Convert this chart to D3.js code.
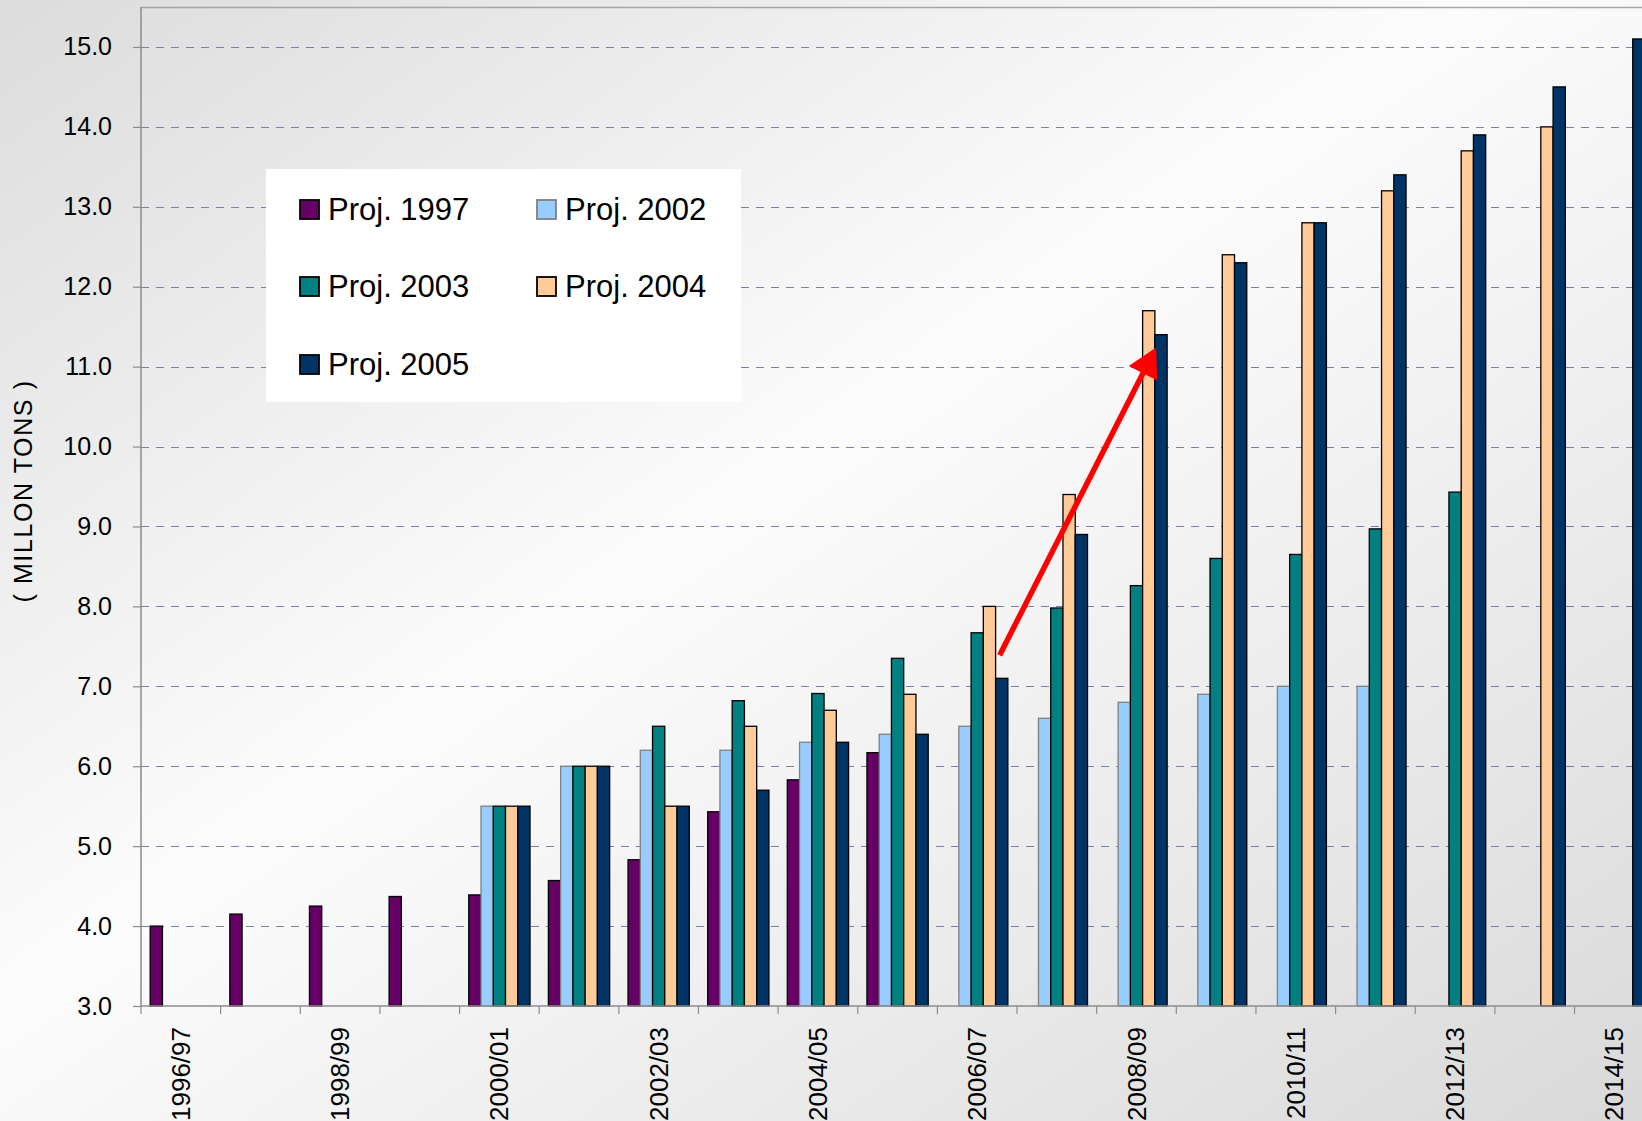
<!DOCTYPE html>
<html>
<head>
<meta charset="utf-8">
<script src="https://cdn.jsdelivr.net/npm/d3@7"></script>
<style>
  html, body { margin: 0; padding: 0; overflow: hidden; background: #fff; }
  svg { display: block; }
  text { font-family: "Liberation Sans", Arial, sans-serif; fill: #000; }
</style>
</head>
<body>
<svg id="chart" width="1642" height="1121"></svg>
<script>
// Marketing years on the x axis
const categories = [
  "1996/97", "1997/98", "1998/99", "1999/00", "2000/01", "2001/02", "2002/03",
  "2003/04", "2004/05", "2005/06", "2006/07", "2007/08", "2008/09", "2009/10",
  "2010/11", "2011/12", "2012/13", "2013/14", "2014/15"
];
// Only every other year is labelled
const xTickLabels = [
  "1996/97", "1998/99", "2000/01", "2002/03", "2004/05",
  "2006/07", "2008/09", "2010/11", "2012/13", "2014/15"
];
const yTicks = [3, 4, 5, 6, 7, 8, 9, 10, 11, 12, 13, 14, 15];

const seriesNames = ["Proj. 1997", "Proj. 2002", "Proj. 2003", "Proj. 2004", "Proj. 2005"];

// Projected volumes, million tons (null = no projection for that year)
const proj1997 = [4.00, 4.15, 4.25, 4.37, 4.39, 4.57, 4.83, 5.43, 5.83, 6.17,
                  null, null, null, null, null, null, null, null, null];
const proj2002 = [null, null, null, null, 5.5, 6.0, 6.2, 6.2, 6.3, 6.4,
                  6.5, 6.6, 6.8, 6.9, 7.0, 7.0, null, null, null];
const proj2003 = [null, null, null, null, 5.5, 6.0, 6.5, 6.82, 6.91, 7.35,
                  7.67, 7.98, 8.26, 8.60, 8.65, 8.97, 9.43, null, null];
const proj2004 = [null, null, null, null, 5.5, 6.0, 5.5, 6.5, 6.7, 6.9,
                  8.0, 9.4, 11.7, 12.4, 12.8, 13.2, 13.7, 14.0, null];
const proj2005 = [null, null, null, null, 5.5, 6.0, 5.5, 5.7, 6.3, 6.4,
                  7.1, 8.9, 11.4, 12.3, 12.8, 13.4, 13.9, 14.5, 15.1];

const seriesValues = [proj1997, proj2002, proj2003, proj2004, proj2005];

// Annotation arrow: from the 2006/07 Proj. 2005 bar up to the 2008/09 one
const arrowFrom = { category: "2006/07", series: "Proj. 2005", value: 7.39 };
const arrowTo   = { category: "2008/09", series: "Proj. 2005", value: 11.24 };

// ---- styles ----
const fills   = ["#660066", "#99ccff", "#008080", "#ffcc99", "#003366"];
const strokes = ["#000000", "#808080", "#000000", "#000000", "#000000"];

const svg = d3.select("#chart");
const W = 1642, H = 1121;

// Background: soft diagonal grey gradient
const defs = svg.append("defs");
const bg = defs.append("linearGradient").attr("id", "bg")
  .attr("x1", "0").attr("y1", "0").attr("x2", "1").attr("y2", "1");
bg.append("stop").attr("offset", "0").attr("stop-color", "#dcdcdc");
bg.append("stop").attr("offset", "0.45").attr("stop-color", "#fcfcfc");
bg.append("stop").attr("offset", "1").attr("stop-color", "#d9d9d9");
svg.append("rect").attr("width", W).attr("height", H).attr("fill", "url(#bg)");

// Plot area
const plotLeft = 141, plotTop = 7, plotBottom = 1006;
const step = 79.64;
const plotRight = plotLeft + step * categories.length;

const x0 = d3.scaleBand().domain(categories).range([plotLeft, plotRight]).padding(0);
// Clustered bars with 150% gap: 5 bars + 1.5 bar widths of gap per category
const bw = x0.bandwidth() / 6.5;
const x1 = d3.scaleBand().domain(seriesNames)
  .range([0.75 * bw, 0.75 * bw + 5 * bw]).padding(0);

const y = d3.scaleLinear().domain([3, 15.5]).range([plotBottom, plotTop]);

// Top border of plot area
svg.append("line")
  .attr("x1", plotLeft).attr("x2", W).attr("y1", plotTop + 0.5).attr("y2", plotTop + 0.5)
  .attr("stroke", "#a6a6a6").attr("stroke-width", 1.5);

// Dashed gridlines
svg.append("g").selectAll("line")
  .data(yTicks.filter(v => v > 3))
  .join("line")
  .attr("x1", plotLeft).attr("x2", W)
  .attr("y1", d => Math.round(y(d)) + 0.5).attr("y2", d => Math.round(y(d)) + 0.5)
  .attr("stroke", "#7d7daf").attr("stroke-width", 1.2)
  .attr("stroke-dasharray", "8,7");

// Y axis
const yAxis = d3.axisLeft(y).tickValues(yTicks).tickFormat(d3.format(".1f"))
  .tickSize(8).tickPadding(21);
const gy = svg.append("g").attr("transform", `translate(${plotLeft},0)`).call(yAxis);
gy.select(".domain").attr("stroke", "#8c8c8c").attr("stroke-width", 1.5)
  .attr("d", `M0,${plotTop}V${plotBottom}`);
gy.selectAll(".tick line").attr("stroke", "#8c8c8c").attr("stroke-width", 1.2);
gy.selectAll(".tick text").style("font-size", "25px")
  .style("font-family", '"Liberation Sans", Arial, sans-serif').attr("fill", "#000");

// Bars
const barData = [];
seriesNames.forEach((s, si) => {
  seriesValues[si].forEach((v, ci) => {
    if (v != null) barData.push({ series: s, si, category: categories[ci], value: v });
  });
});

svg.append("g").selectAll("rect")
  .data(barData)
  .join("rect")
  .attr("x", d => x0(d.category) + x1(d.series))
  .attr("y", d => y(d.value))
  .attr("width", x1.bandwidth())
  .attr("height", d => plotBottom - y(d.value))
  .attr("fill", d => fills[d.si])
  .attr("stroke", d => strokes[d.si])
  .attr("stroke-width", 1.3);

// X axis (ticks at category boundaries)
svg.append("line")
  .attr("x1", plotLeft).attr("x2", W).attr("y1", plotBottom).attr("y2", plotBottom)
  .attr("stroke", "#8c8c8c").attr("stroke-width", 1.5);
svg.append("g").selectAll("line")
  .data(categories)
  .join("line")
  .attr("x1", d => x0(d)).attr("x2", d => x0(d))
  .attr("y1", plotBottom).attr("y2", plotBottom + 8)
  .attr("stroke", "#8c8c8c").attr("stroke-width", 1.2);

svg.append("g").selectAll("text")
  .data(xTickLabels)
  .join("text")
  .attr("transform", d => `translate(${x0(d) + x0.bandwidth() / 2},${plotBottom + 21}) rotate(-90)`)
  .attr("text-anchor", "end")
  .attr("dy", "0.35em")
  .style("font-size", "26px")
  .text(d => d);

// Y axis title
svg.append("text")
  .attr("transform", "translate(23,491) rotate(-90)")
  .attr("text-anchor", "middle")
  .attr("dy", "0.35em")
  .style("font-size", "25px")
  .style("letter-spacing", "1.6px")
  .attr("fill", "#000")
  .text("( MILLON  TONS )");

// Legend
const legend = svg.append("g");
legend.append("rect")
  .attr("x", 266).attr("y", 169).attr("width", 475).attr("height", 233)
  .attr("fill", "#ffffff");
const legendCols = [300, 537];
const legendRows = [200, 277, 355];
seriesNames.forEach((s, i) => {
  const lx = legendCols[i % 2], ly = legendRows[Math.floor(i / 2)];
  legend.append("rect")
    .attr("x", lx).attr("y", ly).attr("width", 19).attr("height", 19)
    .attr("fill", fills[i]).attr("stroke", strokes[i]).attr("stroke-width", 1.8);
  legend.append("text")
    .attr("x", lx + 28).attr("y", ly + 20)
    .style("font-size", "31px")
    .text(s);
});

// Red arrow annotation
const ax0 = x0(arrowFrom.category) + x1(arrowFrom.series) + 0.33 * x1.bandwidth();
const ay0 = y(arrowFrom.value);
const ax1 = x0(arrowTo.category) + x1(arrowTo.series) + 0.1 * x1.bandwidth();
const ay1 = y(arrowTo.value);
const len = Math.hypot(ax1 - ax0, ay1 - ay0);
const ux = (ax1 - ax0) / len, uy = (ay1 - ay0) / len;
const headLen = 29, headHalf = 16;
const bx = ax1 - ux * headLen, by = ay1 - uy * headLen;
svg.append("line")
  .attr("x1", ax0).attr("y1", ay0)
  .attr("x2", bx + ux * 2).attr("y2", by + uy * 2)
  .attr("stroke", "#ff0000").attr("stroke-width", 5.5);
svg.append("path")
  .attr("d", `M${ax1},${ay1}L${bx - uy * headHalf},${by + ux * headHalf}L${bx + uy * headHalf},${by - ux * headHalf}Z`)
  .attr("fill", "#ff0000");
</script>
</body>
</html>
